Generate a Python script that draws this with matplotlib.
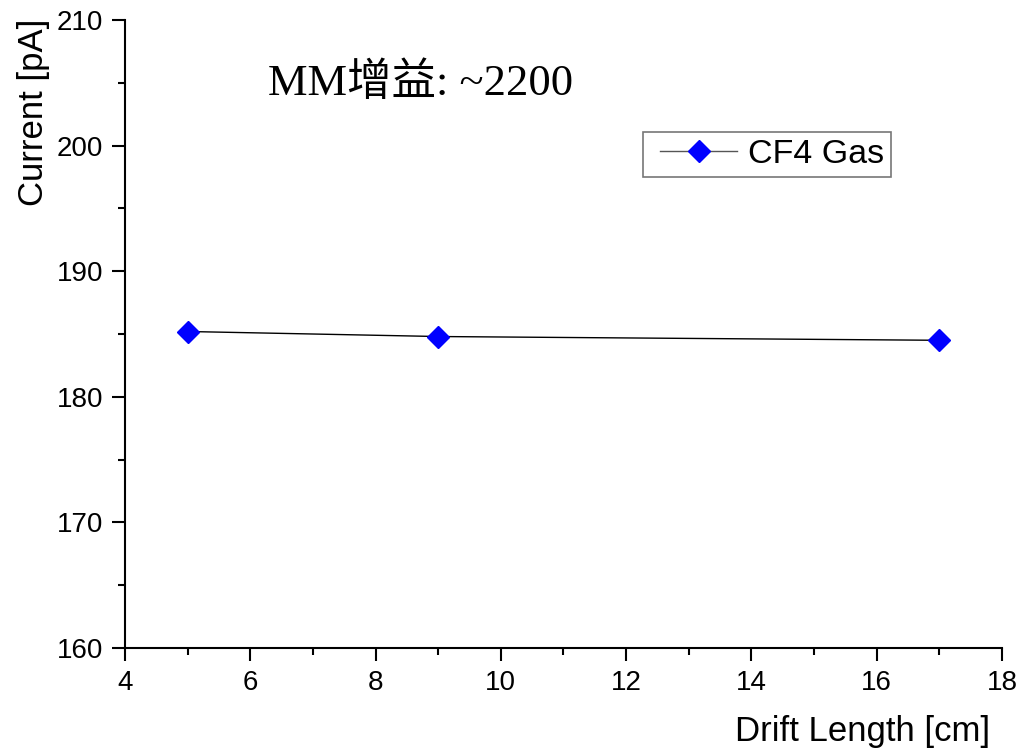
import matplotlib
matplotlib.use("Agg")
import matplotlib.pyplot as plt
from matplotlib.ticker import MultipleLocator
from matplotlib.legend_handler import HandlerLine2D

# drift length scan, CF4 gas
drift_length = [5, 9, 17]
current = [185.2, 184.8, 184.5]
series_label = "CF4 Gas"
note = "MM增益: ~2200"

plt.rcParams['font.family'] = ['Liberation Sans', 'DejaVu Sans']

fig = plt.figure(figsize=(10.22, 7.5), dpi=100)
ax = fig.add_axes([0.1223, 0.136, 0.8581, 0.8373])

line, = ax.plot(drift_length, current, color='black', lw=1.0,
                marker='D', markersize=11, markerfacecolor='#0000ff',
                markeredgecolor='#0000ff', label=series_label)

ax.set_xlim(4, 18)
ax.set_ylim(160, 210)
ax.xaxis.set_major_locator(MultipleLocator(2))
ax.xaxis.set_minor_locator(MultipleLocator(1))
ax.yaxis.set_major_locator(MultipleLocator(10))
ax.yaxis.set_minor_locator(MultipleLocator(5))

for side in ('top', 'right'):
    ax.spines[side].set_visible(False)
for side in ('left', 'bottom'):
    ax.spines[side].set_linewidth(1.5)

ax.tick_params(which='major', direction='out', length=9.5, width=1.5,
               labelsize=20, pad=6)
ax.tick_params(which='minor', direction='out', length=5, width=1.5)

# axis titles sit at the outer corners
ax.set_xlabel("Drift Length [cm]", fontsize=25)
ax.xaxis.set_label_coords(0.986, -0.148)
ax.xaxis.label.set_ha('right')
ax.xaxis.label.set_va('baseline')
ax.set_ylabel("Current [pA]", fontsize=25)
ax.yaxis.set_label_coords(-0.123, 1.003)
# ylabel is rotated in anchor mode: ha runs along the text
ax.yaxis.label.set_ha('right')
ax.yaxis.label.set_va('top')

leg = ax.legend(handles=[line], loc='upper left',
                bbox_to_anchor=(0.591, 0.8217), fontsize=24.5,
                frameon=True, fancybox=False, edgecolor='#555555',
                handlelength=2.55, borderpad=0.2, handletextpad=0.33,
                borderaxespad=0, handler_map={line: HandlerLine2D(xpad=0.3)})
leg.get_frame().set_linewidth(1.2)
leg.get_lines()[0].set_color('#555555')
leg.get_lines()[0].set_markerfacecolor('#0000ff')
leg.get_lines()[0].set_markeredgecolor('#0000ff')

ax.text(0.163, 0.9, note, transform=ax.transAxes, fontsize=32,
        family=['Liberation Serif', 'Noto Sans CJK SC'], va='center', ha='left')

fig.savefig("out.png", dpi=100)
